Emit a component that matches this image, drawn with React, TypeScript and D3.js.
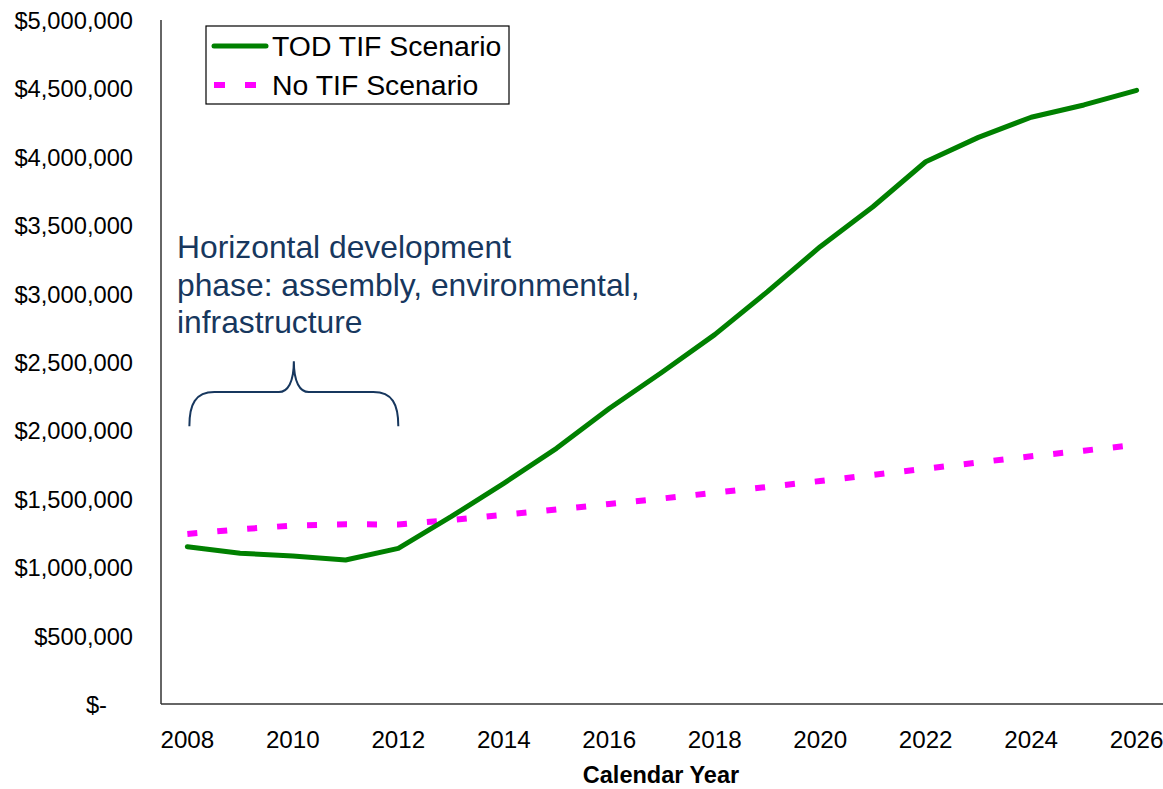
import React from 'react'
import * as d3 from 'd3'

const years = [2008, 2009, 2010, 2011, 2012, 2013, 2014, 2015, 2016, 2017, 2018, 2019, 2020, 2021, 2022, 2023, 2024, 2025, 2026]
const todTif = [1150000, 1102000, 1082000, 1053000, 1138000, 1369000, 1613000, 1869000, 2160000, 2425000, 2700000, 3014000, 3343000, 3635000, 3964000, 4142000, 4289000, 4379000, 4486000]
const noTif = [1243000, 1277000, 1305000, 1314000, 1312000, 1345000, 1383000, 1422000, 1462000, 1502000, 1544000, 1587000, 1630000, 1675000, 1720000, 1766000, 1811000, 1852000, 1895000]
const yTicks = [0, 500000, 1000000, 1500000, 2000000, 2500000, 3000000, 3500000, 4000000, 4500000, 5000000]
const xTicks = [2008, 2010, 2012, 2014, 2016, 2018, 2020, 2022, 2024, 2026]
const seriesNames = ['TOD TIF Scenario', 'No TIF Scenario']
const noteLines = ['Horizontal development', 'phase: assembly, environmental,', 'infrastructure']

const width = 1163
const height = 789
const font = "'Liberation Sans', Arial, Helvetica, sans-serif"
const noteColor = '#17375E'

const App = () => {
    const x = d3.scaleLinear().domain([2007.5, 2026.5]).range([161, 1163])
    const y = d3.scaleLinear().domain([0, 5000000]).range([704, 20])
    const line = d3.line<number>()
        .x((d, i) => x(years[i]))
        .y(d => y(d))
    const money = d3.format(',')

    // brace spanning the 2008-2012 years
    const bl = x(2008) + 2, br = x(2012), bm = (bl + br) / 2
    const bBot = y(2030000), bMid = y(2280000), bTop = y(2505000)
    const brace = `M${bl},${bBot} C${bl},${bMid + 12} ${bl + 6},${bMid} ${bl + 25},${bMid}` +
        ` L${bm - 15},${bMid} C${bm - 6},${bMid} ${bm},${bMid - 10} ${bm},${bTop}` +
        ` C${bm},${bMid - 10} ${bm + 6},${bMid} ${bm + 15},${bMid}` +
        ` L${br - 25},${bMid} C${br - 6},${bMid} ${br},${bMid + 12} ${br},${bBot}`

    return (
        <svg width={width} height={height} style={{ position: 'absolute', left: 0, top: 0, fontFamily: font }}>
            <rect width={width} height={height} fill="#fff" />
            <line x1={161} x2={161} y1={20} y2={704} stroke="#333" strokeWidth={1.5} />
            <line x1={161} x2={1163} y1={704} y2={704} stroke="#333" strokeWidth={1.5} />
            {yTicks.map(t => (
                <text key={t} x={t === 0 ? 107 : 133} y={y(t) + 9} fontSize={23.7} textAnchor="end" fill="#000">
                    {t === 0 ? '$-' : '$' + money(t)}
                </text>
            ))}
            {xTicks.map(t => (
                <text key={t} x={x(t)} y={748} fontSize={24.2} textAnchor="middle" fill="#000">{t}</text>
            ))}
            <text x={661} y={783} fontSize={23.5} fontWeight="bold" textAnchor="middle" fill="#000">Calendar Year</text>

            <path d={line(noTif) || ''} fill="none" stroke="#FF00FF" strokeWidth={6} strokeDasharray="10,20" />
            <path d={line(todTif) || ''} fill="none" stroke="#008000" strokeWidth={5} strokeLinejoin="round" strokeLinecap="round" />

            <path d={brace} fill="none" stroke={noteColor} strokeWidth={2} />
            {noteLines.map((s, i) => (
                <text key={s} x={177} y={258 + i * 37.5} fontSize={31.8} fill={noteColor}>{s}</text>
            ))}

            <g>
                <rect x={206} y={26} width={303} height={78} fill="#fff" stroke="#000" strokeWidth={1.2} />
                <line x1={214} x2={266} y1={46} y2={46} stroke="#008000" strokeWidth={5} strokeLinecap="round" />
                <line x1={214} x2={266} y1={85} y2={85} stroke="#FF00FF" strokeWidth={6} strokeDasharray="11,20" />
                <text x={272} y={56} fontSize={28.4} fill="#000">{seriesNames[0]}</text>
                <text x={272} y={95} fontSize={28.4} fill="#000">{seriesNames[1]}</text>
            </g>
        </svg>
    )
}

export default App
